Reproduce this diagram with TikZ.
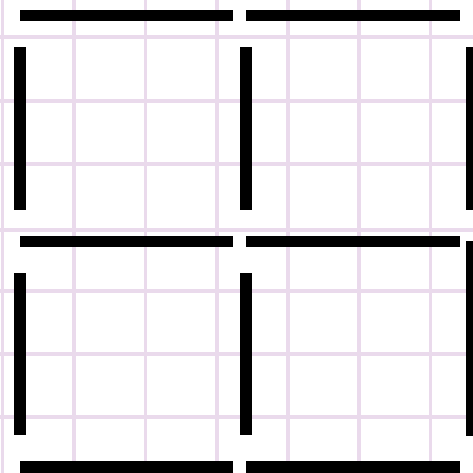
\documentclass[tikz,border=0pt]{standalone}
\definecolor{gridpink}{RGB}{234,218,236}
\begin{document}
\begin{tikzpicture}[x=1pt,y=-1pt,
  gridline/.style={draw=gridpink,line width=3.5pt},
  stick/.style={fill=black}]
\useasboundingbox (0,0) rectangle (473,473);
\fill[white] (0,0) rectangle (473,473);
% grid
\foreach \gx in {2.5,74,145.5,217,288,359,430.5}
  \draw[gridline] (\gx,0) -- (\gx,473);
\foreach \gy in {37,101,164,230,291,354,417}
  \draw[gridline] (0,\gy) -- (473,\gy);
% horizontal sticks
\foreach \ya/\yb in {10/21,236/247,461/474}{
  \fill[stick] (20,\ya) rectangle (233,\yb);
  \fill[stick] (246,\ya) rectangle (460,\yb);
}
% vertical sticks, row 1
\fill[stick] (14,47) rectangle (26,210);
\fill[stick] (240,47) rectangle (252,210);
\fill[stick] (466,47) rectangle (476,210);
% vertical sticks, row 2
\fill[stick] (14,273) rectangle (26,435);
\fill[stick] (240,273) rectangle (252,435);
\fill[stick] (466,241) rectangle (476,436);
\end{tikzpicture}
\end{document}
